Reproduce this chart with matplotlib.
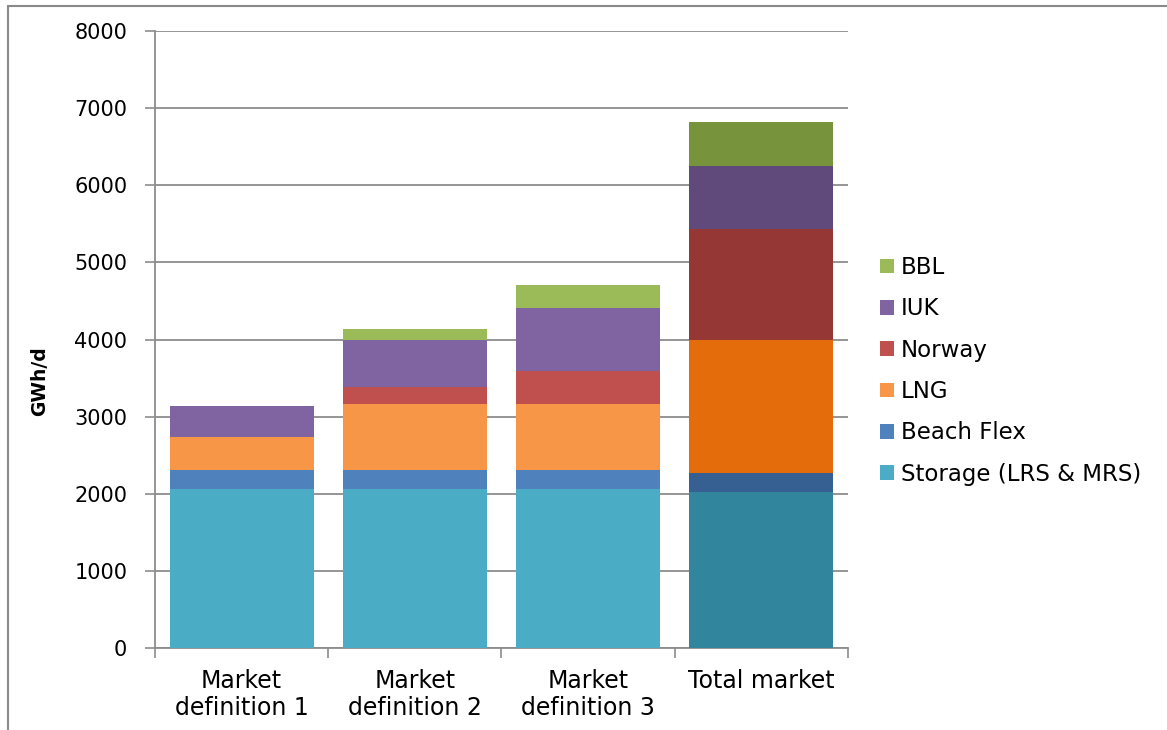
import matplotlib
matplotlib.use("Agg")
import matplotlib.pyplot as plt
from matplotlib.patches import Rectangle, Patch
import numpy as np

categories = ["Market\ndefinition 1", "Market\ndefinition 2", "Market\ndefinition 3", "Total market"]
series_names = ["Storage (LRS & MRS)", "Beach Flex", "LNG", "Norway", "IUK", "BBL"]
storage = [2060, 2060, 2060, 2020]
beach_flex = [245, 245, 245, 245]
lng = [430, 860, 860, 1730]
norway = [0, 220, 430, 1435]
iuk = [405, 610, 815, 815]
bbl = [0, 145, 300, 570]
yticks = [0, 1000, 2000, 3000, 4000, 5000, 6000, 7000, 8000]

colors_def = ["#4BACC6", "#4F81BD", "#F79646", "#C0504D", "#8064A2", "#9BBB59"]
colors_total = ["#31859C", "#376092", "#E46C0A", "#953735", "#604A7B", "#77933C"]

series = [storage, beach_flex, lng, norway, iuk, bbl]

W, H = 1167, 730
fig = plt.figure(figsize=(W / 100, H / 100), dpi=100)
fig.patch.set_facecolor("white")

# outer frame of the chart area
fig.patches.append(Rectangle((8 / W, -0.05), 1.2, 1 - 6 / H + 0.05,
                             transform=fig.transFigure, fill=False,
                             edgecolor="#8a8a8a", linewidth=1.5))

ax = fig.add_axes([155 / W, 1 - 648 / H, (848 - 155) / W, (648 - 31) / H])

x = np.arange(len(categories))
bottom = np.zeros(len(categories))
for vals, c_def, c_tot in zip(series, colors_def, colors_total):
    cols = [c_def] * (len(categories) - 1) + [c_tot]
    ax.bar(x, vals, width=0.83, bottom=bottom, color=cols, edgecolor="none", zorder=3)
    bottom += np.array(vals)

ax.set_xlim(-0.5, len(categories) - 0.5)
ax.set_ylim(0, 8000)
ax.set_yticks(yticks)
ax.set_yticklabels([str(v) for v in yticks], fontsize=15, family="DejaVu Sans")
ax.yaxis.grid(True, color="#8c8c8c", linewidth=1.3, zorder=0)
ax.set_axisbelow(True)

ax.set_xticks(x)
ax.set_xticklabels(categories, fontsize=17, family="DejaVu Sans", linespacing=1.15)
ax.set_xticks(np.arange(-0.5, len(categories)), minor=True)
ax.tick_params(axis="x", which="major", length=0, pad=15)
ax.tick_params(axis="x", which="minor", length=7, color="#8c8c8c", width=1.2)
ax.tick_params(axis="y", which="major", length=7, color="#8c8c8c", width=1.2, pad=13)

for side in ["top", "right"]:
    ax.spines[side].set_visible(False)
for side in ["left", "bottom"]:
    ax.spines[side].set_color("#8c8c8c")
    ax.spines[side].set_linewidth(1.3)

ax.set_ylabel("GWh/d", fontsize=13.5, fontweight="bold", family="DejaVu Sans")
ax.yaxis.label.set_horizontalalignment("center")
ax.yaxis.label.set_verticalalignment("center")
ax.yaxis.set_label_coords((40 - 155) / (848 - 155), (648 - 381) / (648 - 31))

handles = [Patch(facecolor=c, edgecolor="none", label=n) for c, n in zip(colors_def, series_names)]
leg = fig.legend(handles[::-1], series_names[::-1], loc="upper left",
                 bbox_to_anchor=(880 / W, 1 - 256 / H), frameon=False,
                 prop={"family": "DejaVu Sans", "size": 16.5},
                 handlelength=0.6, handleheight=0.6, handletextpad=0.3,
                 labelspacing=0.8, borderaxespad=0, borderpad=0)

fig.savefig("out.png", dpi=100)
